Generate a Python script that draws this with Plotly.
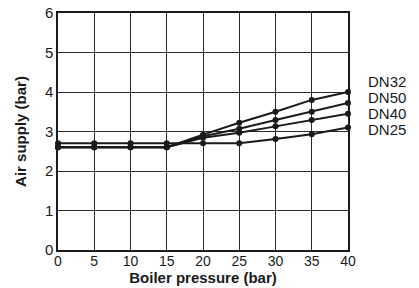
import plotly.graph_objects as go

pressure = [0, 5, 10, 15, 20, 25, 30, 35, 40]
series_names = ["DN32", "DN50", "DN40", "DN25"]
dn32 = [2.6, 2.6, 2.6, 2.6, 2.92, 3.22, 3.5, 3.8, 4.0]
dn50 = [2.6, 2.6, 2.6, 2.6, 2.88, 3.07, 3.29, 3.5, 3.72]
dn40 = [2.6, 2.6, 2.6, 2.6, 2.84, 2.97, 3.13, 3.29, 3.45]
dn25 = [2.7, 2.7, 2.7, 2.7, 2.7, 2.7, 2.81, 2.93, 3.1]
x_ticks = [0, 5, 10, 15, 20, 25, 30, 35, 40]
y_ticks = [0, 1, 2, 3, 4, 5, 6]

W, H = 419, 288
L, R, T, B = 58, 71, 13, 38

fig = go.Figure()
for name, vals in zip(series_names, [dn32, dn50, dn40, dn25]):
    fig.add_trace(go.Scatter(
        x=pressure, y=vals, name=name, mode="lines+markers",
        line=dict(color="#1a1a1a", width=2),
        marker=dict(color="#1a1a1a", size=6),
        showlegend=False, cliponaxis=False,
    ))

font = dict(family="Liberation Sans, Arial, sans-serif", color="#1a1a1a")
plot_w = W - L - R
plot_h = H - T - B
label_y_px = [81.7, 97.5, 113.3, 129.1]
for name, py in zip(series_names, label_y_px):
    fig.add_annotation(
        text=name, xref="paper", yref="paper",
        x=(366 - L) / plot_w, y=(H - B - py) / plot_h,
        xanchor="left", yanchor="middle", showarrow=False,
        font=dict(size=15, **font),
    )

fig.update_layout(
    width=W, height=H,
    margin=dict(l=L, r=R, t=T, b=B, autoexpand=False),
    paper_bgcolor="white", plot_bgcolor="white",
    font=dict(size=14, **font),
)
fig.update_xaxes(
    range=[0, 40], tickvals=x_ticks, ticktext=[str(v) for v in x_ticks],
    showgrid=True, gridcolor="#2a2a2a", gridwidth=1.2,
    showline=True, linecolor="#1a1a1a", linewidth=1.5, mirror=True,
    zeroline=False, ticks="", tickfont=dict(size=14),
    automargin=False, ticklabeloverflow="allow", ticklabelstandoff=-3,
    title=dict(text="<b>Boiler pressure (bar)</b>", font=dict(size=15), standoff=4),
)
fig.update_yaxes(
    range=[0, 6], tickvals=y_ticks, ticktext=[str(v) for v in y_ticks],
    showgrid=True, gridcolor="#2a2a2a", gridwidth=1.2,
    showline=True, linecolor="#1a1a1a", linewidth=1.5, mirror=True,
    zeroline=False, ticks="", tickfont=dict(size=15),
    automargin=False, ticklabeloverflow="allow",
    title=dict(text="<b>Air supply (bar)</b>", font=dict(size=15), standoff=15),
)

fig.write_html("out.html", config={"displayModeBar": False},
               post_script="document.body.style.margin='0';")
